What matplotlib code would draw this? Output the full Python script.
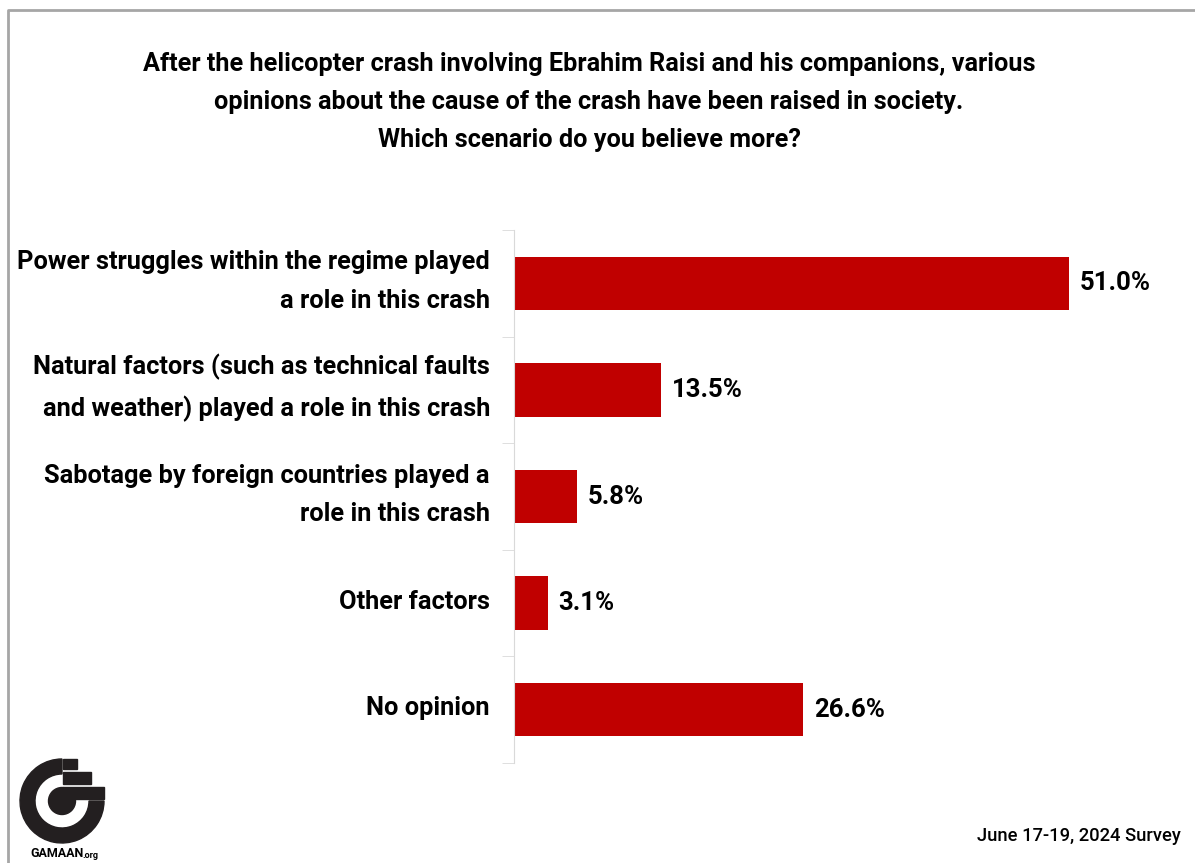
import matplotlib
matplotlib.use("Agg")
import matplotlib.pyplot as plt
from matplotlib.patches import Wedge, Circle, Rectangle
import numpy as np

plt.rcParams['font.family'] = ['Roboto', 'DejaVu Sans']

# -----------------------------
# Data
# -----------------------------
categories = [
    "Power struggles within the regime played\na role in this crash",
    "Natural factors (such as technical faults\nand weather) played a role in this crash",
    "Sabotage by foreign countries played a\nrole in this crash",
    "Other factors",
    "No opinion",
]
values = [51.0, 13.5, 5.8, 3.1, 26.6]
title = ("After the helicopter crash involving Ebrahim Raisi and his companions, various\n"
         "opinions about the cause of the crash have been raised in society.\n"
         "Which scenario do you believe more?")
footer = "June 17-19, 2024 Survey"

W, H = 1195, 863
fig = plt.figure(figsize=(W / 100, H / 100), dpi=100)

# -----------------------------
# Bar chart
# -----------------------------
ax_w = 653
ax = fig.add_axes([514 / W, 1 - 763 / H, ax_w / W, 533 / H])
y = np.arange(len(categories))
ax.barh(y, values, height=0.5, color="#C00000")
ax.set_xlim(0, 60)
ax.set_ylim(len(categories) - 0.5, -0.5)

for s in ["top", "right", "bottom"]:
    ax.spines[s].set_visible(False)
ax.spines["left"].set_color("#d9d9d9")
ax.xaxis.set_visible(False)

ax.set_yticks([])
ax.set_yticks(np.arange(-0.5, len(categories)), minor=True)
ax.tick_params(axis="y", which="minor", length=9, color="#d9d9d9", labelleft=False)

# category labels, slightly above bar centre like the original
for yi, lab in zip(y, categories):
    ax.text(-24 / ax_w, yi - 0.015, lab, transform=ax.get_yaxis_transform(),
            ha="right", va="center", multialignment="right",
            fontsize=18.3, fontweight="bold", linespacing=1.76)

for yi, v in zip(y, values):
    ax.text(v + 1.0, yi, f"{v:.1f}%", va="center", ha="left",
            fontsize=18.5, fontweight="bold")

# -----------------------------
# Title, footer
# -----------------------------
fig.text(589 / W, 1 - 102 / H, title, ha="center", va="center",
         fontsize=18.2, fontweight="bold", linespacing=1.75)
fig.text(1181 / W, 1 - 836 / H, footer, ha="right", va="center",
         fontsize=13.2, fontweight="medium")

# -----------------------------
# Frame and logo (pixel coords overlay)
# -----------------------------
ov = fig.add_axes([0, 0, 1, 1], zorder=-1)
ov.set_xlim(0, W)
ov.set_ylim(H, 0)
ov.axis("off")
ov.plot([8, 8, W], [H, 10, 10], color="#a6a6a6", lw=2)

ov2 = fig.add_axes([0, 0, 1, 1])
ov2.set_xlim(0, W)
ov2.set_ylim(H, 0)
ov2.axis("off")
cx, cy = 62, 801
ov2.add_patch(Wedge((cx, cy), 42, 0, 270, width=15, color="#231f20"))
ov2.add_patch(Circle((cx, cy), 13.5, color="#231f20"))
ov2.add_patch(Rectangle((63, 787), 41, 12, color="#231f20"))
ov2.add_patch(Rectangle((63, 772), 28, 12, color="#231f20"))
ov2.add_patch(Rectangle((63, 759), 14, 10, color="#231f20"))
ov2.text(30, 853, "GAMAAN", fontsize=9, fontweight="bold", ha="left", va="center")
ov2.text(82, 855, ".org", fontsize=6.5, fontweight="bold", ha="left", va="center")

fig.savefig("out.png", dpi=100, facecolor="white")
